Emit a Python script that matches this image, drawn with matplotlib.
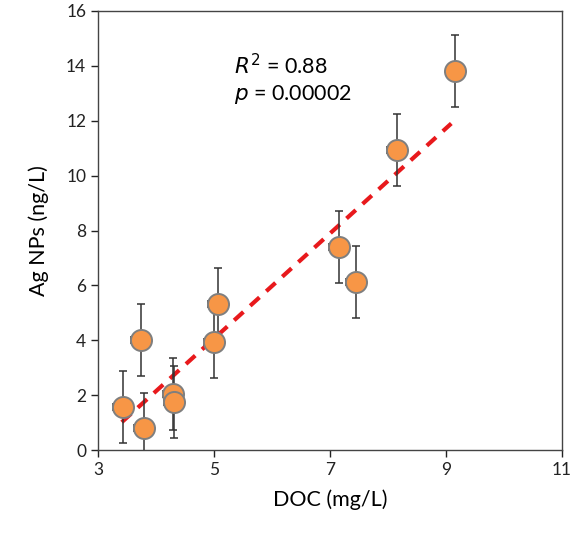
import numpy as np
import matplotlib.pyplot as plt

plt.rcParams['font.family'] = ['Lato', 'DejaVu Sans']

doc = [3.43, 3.79, 3.74, 4.29, 4.31, 5.00, 5.07, 7.16, 7.45, 8.16, 9.16]
ag = [1.57, 0.80, 4.02, 2.05, 1.75, 3.94, 5.32, 7.40, 6.12, 10.93, 13.81]
ag_err = [1.3, 1.3, 1.3, 1.3, 1.3, 1.3, 1.3, 1.3, 1.3, 1.3, 1.3]
doc_err = [0.17] * len(doc)

fit_x = [3.41, 9.09]
fit_y = [1.02, 11.9]

fig = plt.figure(figsize=(5.73, 5.47), dpi=100)
ax = fig.add_axes([0.171, 0.177, 0.81, 0.803])

ax.plot(fit_x, fit_y, color='#e8191c', ls=(0, (3, 2.2)), lw=3, zorder=2)
ax.errorbar(doc, ag, yerr=ag_err, xerr=doc_err, fmt='none', ecolor='#333333',
            elinewidth=1.1, capsize=3, capthick=1.1, zorder=3)
ax.scatter(doc, ag, s=230, color='#f79646', edgecolor='#7f7f7f', linewidth=1.4, zorder=4)

ax.set_xlim(3, 11)
ax.set_ylim(0, 16)
ax.set_xticks([3, 5, 7, 9, 11])
ax.set_yticks(range(0, 17, 2))
ax.tick_params(direction='out', length=5, width=1, labelsize=12.5, colors='#222222')
for s in ax.spines.values():
    s.set_color('#444444')
    s.set_linewidth(1)

ax.set_xlabel('DOC (mg/L)', fontsize=15.5, labelpad=8)
ax.set_ylabel('Ag NPs (ng/L)', fontsize=15.5, labelpad=12)

ax.text(0.292, 0.855, r'$\it{R}^{2}$ = 0.88', transform=ax.transAxes, fontsize=15.5)
ax.text(0.292, 0.798, r'$\it{p}$ = 0.00002', transform=ax.transAxes, fontsize=15.5)

fig.savefig('out.png', dpi=100)
